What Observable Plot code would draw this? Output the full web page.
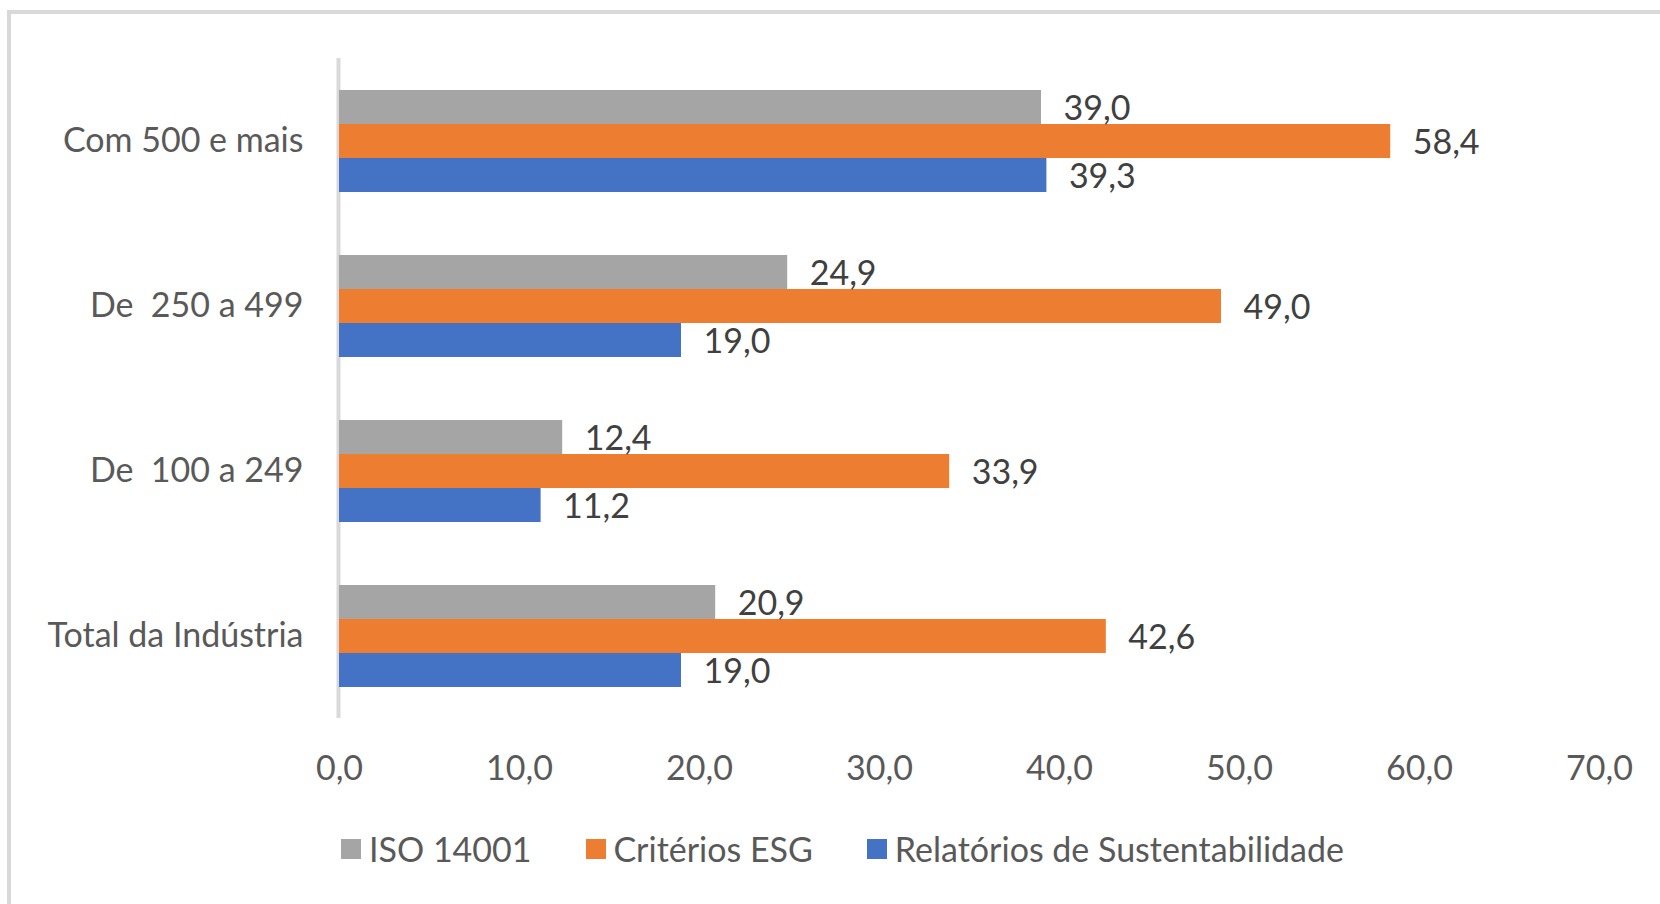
<!DOCTYPE html>
<html>
<head>
<meta charset="utf-8">
<script src="https://cdn.jsdelivr.net/npm/d3@7"></script>
<script src="https://cdn.jsdelivr.net/npm/@observablehq/plot@0.6"></script>
<style>
  html, body { margin: 0; padding: 0; background: #fff; }
  #wrap { position: relative; width: 1660px; height: 904px; overflow: hidden; }
  #frame { position: absolute; left: 7px; top: 10px; width: 1700px; height: 1000px;
           border-left: 4px solid #d9d9d9; border-top: 4px solid #d9d9d9; box-sizing: border-box; }
  #chart { position: absolute; left: 0; top: 0; }
  #chart text { white-space: pre; }
  #legend { position: absolute; left: 341px; top: 828px; display: flex; gap: 54px;
            font-family: Lato, "Open Sans", sans-serif;
            font-size: 34px; line-height: 42px; color: #595959; }
  .item { display: flex; align-items: center; gap: 8px; white-space: pre; }
  .sw { width: 20px; height: 20px; display: inline-block; }
</style>
</head>
<body>
<div id="wrap">
  <div id="frame"></div>
  <div id="chart"></div>
  <div id="legend"></div>
</div>
<script>
const categories = ["Com 500 e mais", "De  250 a 499", "De  100 a 249", "Total da Indústria"];
const series = ["ISO 14001", "Critérios ESG", "Relatórios de Sustentabilidade"];
const iso14001 = [39.0, 24.9, 12.4, 20.9];
const criteriosESG = [58.4, 49.0, 33.9, 42.6];
const relatorios = [39.3, 19.0, 11.2, 19.0];
const colors = ["#A5A5A5", "#ED7D31", "#4472C4"];
const xTicks = [0, 10, 20, 30, 40, 50, 60, 70];

const fmt = v => d3.format(".1f")(v).replace(".", ",");

const values = [iso14001, criteriosESG, relatorios];
const data = [];
categories.forEach((c, i) => {
  series.forEach((s, j) => {
    data.push({category: c, series: s, value: values[j][i]});
  });
});

const chart = Plot.plot({
  width: 1660,
  height: 800,
  marginLeft: 339,
  marginRight: 61,
  marginTop: 58,
  marginBottom: 82,
  style: {
    fontFamily: 'Lato, "Open Sans", sans-serif',
    fontSize: "34px",
    color: "#595959",
    background: "transparent"
  },
  x: {domain: [0, 70], ticks: xTicks, tickFormat: fmt, tickSize: 0, tickPadding: 37, label: null},
  y: {domain: series, axis: null, paddingInner: 0, paddingOuter: 0.926},
  fy: {domain: categories, axis: "left", padding: 0, label: null, tickSize: 0, tickPadding: 36},
  color: {domain: series, range: colors},
  marks: [
    Plot.ruleX([0], {stroke: "#d9d9d9", strokeWidth: 4, dx: -1}),
    Plot.barX(data, {x: "value", y: "series", fy: "category", fill: "series"}),
    Plot.text(data, {x: "value", y: "series", fy: "category", text: d => fmt(d.value),
                     dx: 22, dy: 2, textAnchor: "start", fill: "#404040"})
  ]
});
document.getElementById("chart").appendChild(chart);

const legend = document.getElementById("legend");
series.forEach((s, j) => {
  const it = document.createElement("div");
  it.className = "item";
  const sw = document.createElement("span");
  sw.className = "sw";
  sw.style.background = colors[j];
  const t = document.createElement("span");
  t.textContent = s;
  it.appendChild(sw);
  it.appendChild(t);
  legend.appendChild(it);
});
</script>
</body>
</html>
